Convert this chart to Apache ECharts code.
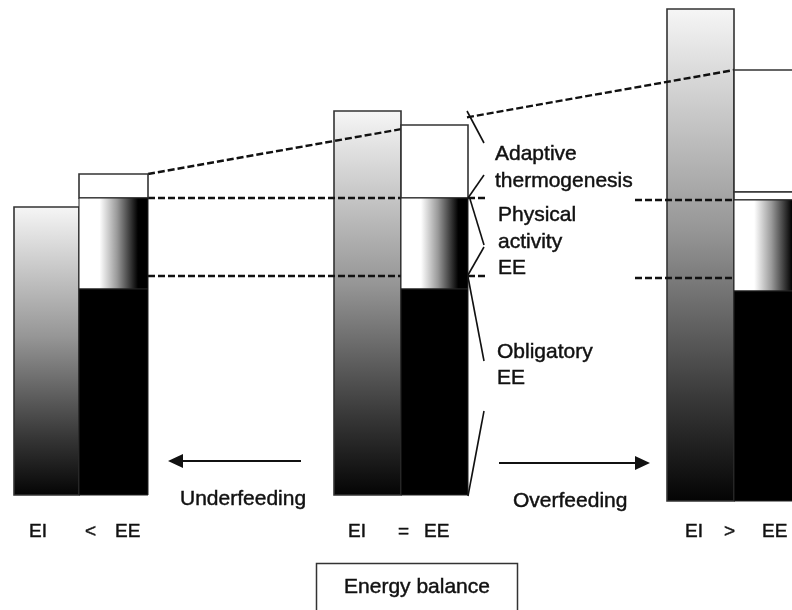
<!DOCTYPE html>
<html><head><meta charset="utf-8">
<script src="https://cdn.jsdelivr.net/npm/echarts@6/dist/echarts.min.js"></script>
<style>html,body{margin:0;padding:0;background:#fff}#c{width:792px;height:610px}</style>
</head><body><div id="c"></div>
<script>
// ---- data (energy units on the vertical scale) ----
const groups    = ['EI < EE', 'EI = EE', 'EI > EE'];
const eiBase    = [115, 115, 109];   // bottom of both bars
const eiTop     = [403, 499, 601];   // energy intake
const oblTop    = [321, 321, 319];   // obligatory EE
const paTop     = [412, 412, 410];   // + physical activity EE
const adaptTop  = [436, 485, 540];   // + adaptive thermogenesis
const extraTop  = [null, null, 418]; // thin extra band (overfeeding)
const markLow   = [334, 334, 332];   // lower reference level (dashed)
const relLabels = [['EI', '<', 'EE'], ['EI', '=', 'EE'], ['EI', '>', 'EE']];

// ---- layout (pixels / horizontal positions) ----
const X = { eiL: [14, 334, 667], split: [79, 401, 734], eeR: [148, 468, 802] };
const relX = [[29, 85, 115], [348, 398, 424], [685, 724, 762]];

const chart = echarts.init(document.getElementById('c'), null, { renderer: 'canvas' });
const FONT = '"Liberation Sans", Arial, sans-serif';
const INK = '#111';

const eiData = groups.map((g, i) => [i, eiBase[i], eiTop[i]]);
const eeData = groups.map((g, i) => [i, eiBase[i], oblTop[i], paTop[i], adaptTop[i], extraTop[i] == null ? -1 : extraTop[i]]);

function lerp(x, x0, v0, x1, v1) { return v0 + (v1 - v0) * (x - x0) / (x1 - x0); }
const dx0 = X.eeR[0], dx1 = X.split[2];
const diagV = x => lerp(x, dx0, adaptTop[0], dx1, adaptTop[2]);
const dashData = [
  [X.eeR[0], paTop[0], 486, paTop[1]],
  [X.eeR[0], markLow[0], 486, markLow[1]],
  [635, paTop[2], X.split[2], paTop[2]],
  [635, markLow[2], X.split[2], markLow[2]],
  [dx0, adaptTop[0], X.split[1], diagV(X.split[1])],
  [467, diagV(467), dx1, adaptTop[2]]
];
// bracket annotations beside the balanced EE bar
const bracketData = [
  [467, eiTop[1], 484, 467], [484, 435, 468, paTop[1]],
  [470, paTop[1] - 1, 484, 365], [484, 363, 468, markLow[1] + 1],
  [468, markLow[1] - 1, 484, 249], [484, 199, 468, eiBase[1] - 1]
];

const eiGrad = new echarts.graphic.LinearGradient(0, 0, 0, 1, [
  { offset: 0, color: '#f6f6f6' }, { offset: 0.45, color: '#969696' },
  { offset: 0.8, color: '#363636' }, { offset: 1, color: '#040404' }]);
const paGrad = new echarts.graphic.LinearGradient(0, 0, 1, 0, [
  { offset: 0, color: '#ffffff' }, { offset: 0.3, color: '#ffffff' },
  { offset: 0.55, color: '#9a9a9a' }, { offset: 0.85, color: '#000000' }, { offset: 1, color: '#000000' }]);

function rect(p0, p1, style) {
  return { type: 'rect', shape: { x: p0[0], y: p0[1], width: p1[0] - p0[0], height: p1[1] - p0[1] }, style: style };
}

const graphics = [];
function text(t, x, y, size, align) {
  graphics.push({ type: 'text', x: x, y: y, z: 10, style: { text: t, fill: INK, font: size + 'px ' + FONT,
    textAlign: align || 'left', textVerticalAlign: 'middle', stroke: INK, lineWidth: 0.45 } });
}
function arrow(x0, x1, y) {
  const dir = x1 > x0 ? 1 : -1;
  graphics.push({ type: 'line', z: 10, shape: { x1: x0, y1: y, x2: x1 - dir * 12, y2: y }, style: { stroke: INK, lineWidth: 2 } });
  graphics.push({ type: 'polygon', z: 10, shape: { points: [[x1, y], [x1 - dir * 15, y - 7], [x1 - dir * 15, y + 7]] }, style: { fill: INK } });
}
text('Adaptive', 495, 154, 21);
text('thermogenesis', 495, 181, 21);
text('Physical', 498, 215, 21);
text('activity', 498, 242, 21);
text('EE', 498, 268, 21);
text('Obligatory', 497, 352, 21);
text('EE', 497, 378, 21);
arrow(301, 168, 461);
text('Underfeeding', 180, 499, 21);
arrow(499, 650, 463);
text('Overfeeding', 513, 501, 21);
relLabels.forEach((lab, i) => lab.forEach((t, k) => text(t, relX[i][k], 532, 19)));
graphics.push({ type: 'rect', z: 10, shape: { x: 316.5, y: 563.5, width: 201, height: 70 }, style: { fill: '#fff', stroke: '#333', lineWidth: 1.5 } });
text('Energy balance', 417, 587, 21, 'center');

chart.setOption({
  animation: false,
  grid: { left: 0, right: 0, top: 0, bottom: 0 },
  xAxis: { type: 'value', min: 0, max: 792, show: false },
  yAxis: { type: 'value', min: 0, max: 610, show: false },
  series: [
    { type: 'custom', z: 1, data: eiData, renderItem: (p, api) => {
        const i = api.value(0);
        return rect(api.coord([X.eiL[i], api.value(2)]), api.coord([X.split[i], api.value(1)]),
          { fill: eiGrad, stroke: '#333', lineWidth: 1.6 });
    } },
    { type: 'custom', z: 2, data: dashData, renderItem: (p, api) => {
        const a = api.coord([api.value(0), api.value(1)]), b = api.coord([api.value(2), api.value(3)]);
        return { type: 'line', shape: { x1: a[0], y1: a[1], x2: b[0], y2: b[1] },
          style: { stroke: '#111', lineWidth: 2.4, lineDash: [7, 3] } };
    } },
    { type: 'custom', z: 3, data: eeData, renderItem: (p, api) => {
        const i = api.value(0), L = X.split[i], R = X.eeR[i];
        const base = api.value(1), obl = api.value(2), pa = api.value(3), ad = api.value(4), ex = api.value(5);
        const ch = [];
        const mid = ex > 0 ? ex : pa;
        ch.push(rect(api.coord([L, ad]), api.coord([R, mid]), { fill: '#fff', stroke: '#333', lineWidth: 1.6 }));
        if (ex > 0) ch.push(rect(api.coord([L, ex]), api.coord([R, pa]), { fill: '#fff', stroke: '#333', lineWidth: 1.6 }));
        ch.push(rect(api.coord([L, pa]), api.coord([R, obl]), { fill: paGrad, stroke: '#222', lineWidth: 1 }));
        ch.push(rect(api.coord([L, obl]), api.coord([R, base]), { fill: '#000', stroke: '#222', lineWidth: 1 }));
        return { type: 'group', children: ch };
    } },
    { type: 'custom', z: 4, data: bracketData, renderItem: (p, api) => {
        const a = api.coord([api.value(0), api.value(1)]), b = api.coord([api.value(2), api.value(3)]);
        return { type: 'line', shape: { x1: a[0], y1: a[1], x2: b[0], y2: b[1] }, style: { stroke: '#111', lineWidth: 1.6 } };
    } }
  ],
  graphic: graphics
});
</script></body></html>
